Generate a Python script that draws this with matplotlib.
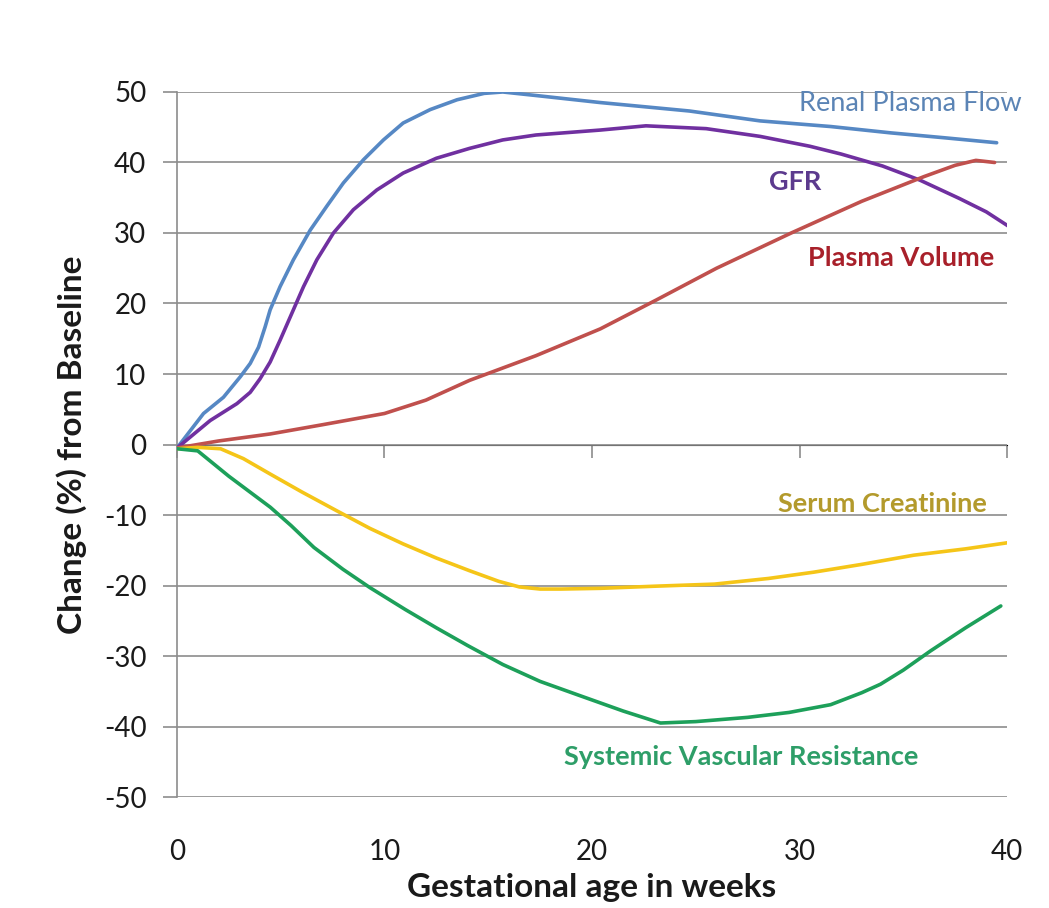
import matplotlib
matplotlib.use("Agg")
import matplotlib.pyplot as plt

# ---- data ----
rpf_x = [0, 1.28, 2.24, 3.05, 3.53, 3.93, 4.25, 4.49, 4.97, 5.61, 6.42, 7.22, 8.02, 8.99, 9.95, 10.9,
         12.2, 13.5, 14.8, 15.7, 17.3, 20.4, 24.7, 28.1, 31.5, 34.4, 37.0, 39.5]
rpf_y = [-0.5, 4.4, 6.7, 9.6, 11.5, 13.8, 16.7, 19.1, 22.4, 26.2, 30.4, 33.8, 37.1, 40.4, 43.2, 45.6,
         47.5, 48.9, 49.8, 50.0, 49.5, 48.5, 47.3, 45.9, 45.1, 44.2, 43.5, 42.8]

gfr_x = [0, 1.6, 2.89, 3.53, 4.0, 4.49, 4.97, 5.46, 6.1, 6.74, 7.54, 8.5, 9.63, 10.9, 12.5, 14.1,
         15.7, 17.3, 20.4, 22.6, 25.5, 28.1, 30.5, 32.0, 34.0, 35.8, 37.7, 39.0, 40.1]
gfr_y = [-0.5, 3.4, 5.8, 7.4, 9.3, 11.7, 14.8, 18.1, 22.4, 26.2, 30.0, 33.3, 36.1, 38.5, 40.6, 42.0,
         43.2, 43.9, 44.6, 45.2, 44.8, 43.7, 42.3, 41.2, 39.5, 37.5, 34.9, 33.0, 30.9]

pv_x = [0, 2.0, 4.5, 7.0, 10.0, 12.0, 14.1, 17.3, 20.4, 23.1, 26.0, 29.6, 33.0, 36.0, 37.5, 38.5, 39.4]
pv_y = [-0.5, 0.5, 1.5, 2.8, 4.4, 6.3, 9.1, 12.6, 16.4, 20.5, 25.0, 30.0, 34.5, 38.0, 39.6, 40.3, 40.0]

scr_x = [0, 1.0, 2.1, 3.2, 4.5, 6.0, 7.7, 9.3, 10.9, 12.5, 14.1, 15.5, 16.5, 17.5, 18.5, 20.4,
         23.0, 25.9, 28.5, 30.7, 33.0, 35.5, 38.0, 40.1]
scr_y = [-0.6, -0.4, -0.6, -2.0, -4.2, -6.7, -9.4, -11.9, -14.1, -16.1, -17.9, -19.4, -20.2, -20.5, -20.5, -20.4,
         -20.1, -19.8, -19.0, -18.1, -17.0, -15.7, -14.8, -13.9]

svr_x = [0, 1.0, 2.5, 4.5, 5.5, 6.6, 8.0, 9.3, 11.0, 12.5, 14.0, 15.7, 17.5, 19.4, 21.5, 23.3,
         25.0, 27.5, 29.5, 31.5, 33.0, 33.9, 35.0, 36.3, 38.0, 39.7]
svr_y = [-0.6, -0.9, -4.5, -8.9, -11.5, -14.6, -17.7, -20.3, -23.4, -26.0, -28.5, -31.2, -33.6, -35.6, -37.8, -39.5,
         -39.3, -38.7, -38.0, -36.9, -35.2, -34.0, -32.0, -29.3, -26.0, -22.9]

x_ticks = [0, 10, 20, 30, 40]
y_ticks = [-50, -40, -30, -20, -10, 0, 10, 20, 30, 40, 50]

series_names = ["Renal Plasma Flow", "GFR", "Plasma Volume", "Serum Creatinine", "Systemic Vascular Resistance"]

# ---- styling ----
FONT = ["Lato", "DejaVu Sans"]
plt.rcParams['font.family'] = FONT
plt.rcParams['axes.unicode_minus'] = False
GRID = "#8c8c8c"

fig = plt.figure(figsize=(10.49, 9.08), dpi=100)
ax = fig.add_axes([0.1687, 0.1222, 0.7913, 0.7765])

line_specs = [
    (rpf_x, rpf_y, "#5688C4"),
    (gfr_x, gfr_y, "#7030A0"),
    (pv_x, pv_y, "#C0504D"),
    (scr_x, scr_y, "#F5C518"),
    (svr_x, svr_y, "#1DA05A"),
]
for xs, ys, c in line_specs:
    ax.plot(xs, ys, color=c, lw=2.6, solid_capstyle='round', solid_joinstyle='round', zorder=3)

ax.set_xlim(0, 40)
ax.set_ylim(-50, 50)
ax.set_xticks(x_ticks)
ax.set_yticks(y_ticks)
ax.yaxis.grid(True, color=GRID, lw=1.2, zorder=0)
ax.set_axisbelow(True)

for s in ['top', 'right', 'bottom']:
    ax.spines[s].set_visible(False)
ax.spines['left'].set_color(GRID)
ax.spines['left'].set_linewidth(1.2)

ax.tick_params(axis='y', length=10, width=1.2, color=GRID, pad=12, labelsize=20, labelcolor="#1a1a1a")
ax.tick_params(axis='x', length=0, pad=30, labelsize=20, labelcolor="#1a1a1a")

# zero line acting as x axis with upward ticks
sec = ax.secondary_xaxis(0.5)
sec.set_xticks(x_ticks)
sec.set_xticklabels([])
sec.tick_params(direction='in', length=9, width=1.2, color=GRID, labelbottom=False, labeltop=False)
sec.spines['bottom'].set_color(GRID)
sec.spines['bottom'].set_linewidth(1.2)

ax.set_ylabel("Change (%) from Baseline", fontsize=24, fontweight='bold', labelpad=12, color="#1a1a1a")
ax.set_xlabel("Gestational age in weeks", fontsize=24, fontweight='bold', labelpad=6, color="#1a1a1a")

# series labels
lab_specs = [
    (40.7, 48.4, "#5B84B5", 'right', 'normal'),
    (29.8, 37.3, "#5C3A8E", 'center', 'bold'),
    (34.9, 26.4, "#A8202A", 'center', 'bold'),
    (34.0, -8.5, "#B39A2C", 'center', 'bold'),
    (27.2, -44.3, "#2E9E68", 'center', 'bold'),
]
for name, (tx, ty, c, ha, fw) in zip(series_names, lab_specs):
    ax.text(tx, ty, name, color=c, fontsize=19.5, ha=ha, va='center', fontweight=fw, clip_on=False)

fig.savefig("out.png", dpi=100, facecolor="white")
